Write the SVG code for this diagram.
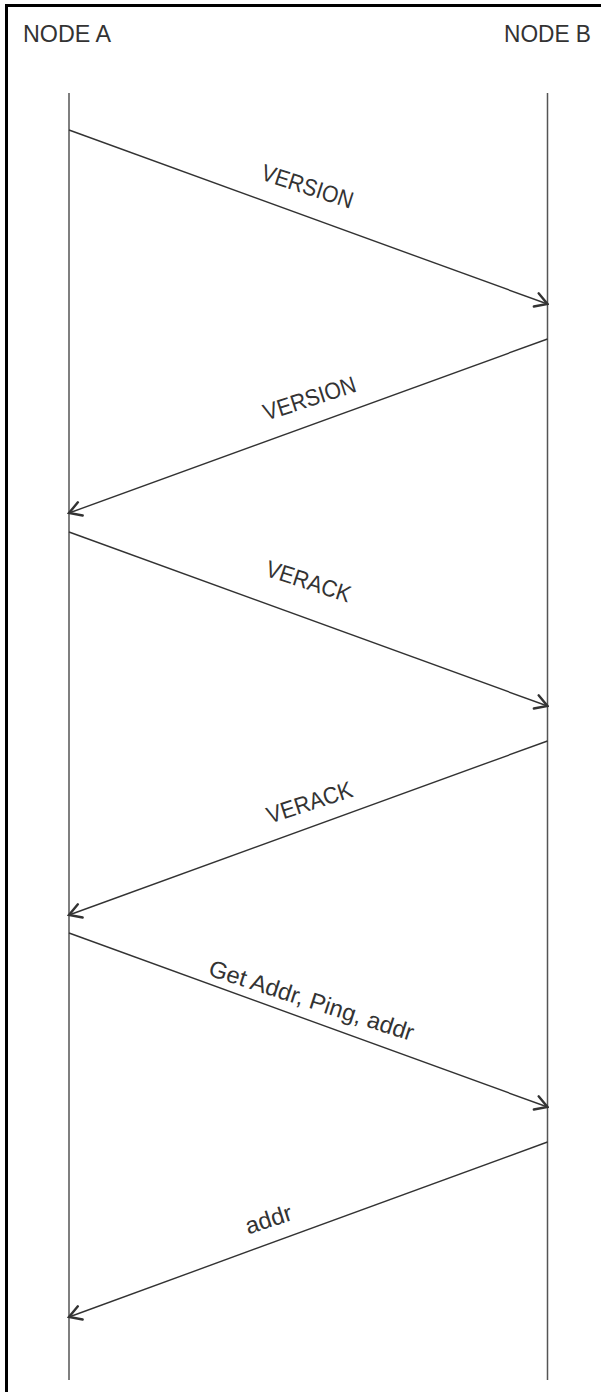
<svg xmlns="http://www.w3.org/2000/svg" width="601" height="1392" viewBox="0 0 601 1392">
<style>
.frame{fill:none;stroke:#000;stroke-width:3}
.life{stroke:#555;stroke-width:1.5;fill:none}
.msg{stroke:#333;stroke-width:1.4;fill:none}
.head{stroke:#333;stroke-width:2.4;fill:none;stroke-linecap:round;stroke-linejoin:miter}
.title{font-family:"Liberation Sans",Arial,sans-serif;font-size:23px;fill:#333}
.lbl{font-family:"Liberation Sans",Arial,sans-serif;font-size:23.5px;fill:#333;text-anchor:middle}
</style>
<defs>
<marker id="arr" markerUnits="userSpaceOnUse" viewBox="-14 -9 16 18" markerWidth="16" markerHeight="18" refX="0" refY="0" orient="auto">
<path class="head" d="M-12,-7 L0,0 L-12,7"/>
</marker>
</defs>
<rect class="frame" x="6.5" y="5.5" width="700" height="1500"/>
<g id="nodeA">
<text class="title" x="23" y="42" textLength="88" lengthAdjust="spacingAndGlyphs">NODE A</text>
<line class="life" x1="69" y1="93" x2="69" y2="1380"/>
</g>
<g id="nodeB">
<text class="title" x="504" y="42" textLength="87" lengthAdjust="spacingAndGlyphs">NODE B</text>
<line class="life" x1="547.5" y1="93" x2="547.5" y2="1380"/>
</g>
<g id="connectors">
<line class="msg" x1="69" y1="130" x2="547.5" y2="304" marker-end="url(#arr)"/>
<line class="msg" x1="547.5" y1="339" x2="69" y2="513" marker-end="url(#arr)"/>
<line class="msg" x1="69" y1="532" x2="547.5" y2="706" marker-end="url(#arr)"/>
<line class="msg" x1="547.5" y1="741" x2="69" y2="915" marker-end="url(#arr)"/>
<line class="msg" x1="69" y1="933" x2="547.5" y2="1107" marker-end="url(#arr)"/>
<line class="msg" x1="547.5" y1="1142" x2="69" y2="1317" marker-end="url(#arr)"/>
<text class="lbl" x="305" y="194" transform="rotate(18 305 194)" textLength="95" lengthAdjust="spacingAndGlyphs">VERSION</text>
<text class="lbl" x="312" y="406" transform="rotate(-18 312 406)" textLength="96" lengthAdjust="spacingAndGlyphs">VERSION</text>
<text class="lbl" x="306" y="589" transform="rotate(18 306 589)" textLength="88" lengthAdjust="spacingAndGlyphs">VERACK</text>
<text class="lbl" x="312" y="810" transform="rotate(-18 312 810)" textLength="89" lengthAdjust="spacingAndGlyphs">VERACK</text>
<text class="lbl" x="309" y="1008" transform="rotate(18 309 1008)" textLength="214" lengthAdjust="spacingAndGlyphs">Get Addr, Ping, addr</text>
<text class="lbl" x="271" y="1227" transform="rotate(-18 271 1227)" textLength="48" lengthAdjust="spacingAndGlyphs">addr</text>
</g>
</svg>
